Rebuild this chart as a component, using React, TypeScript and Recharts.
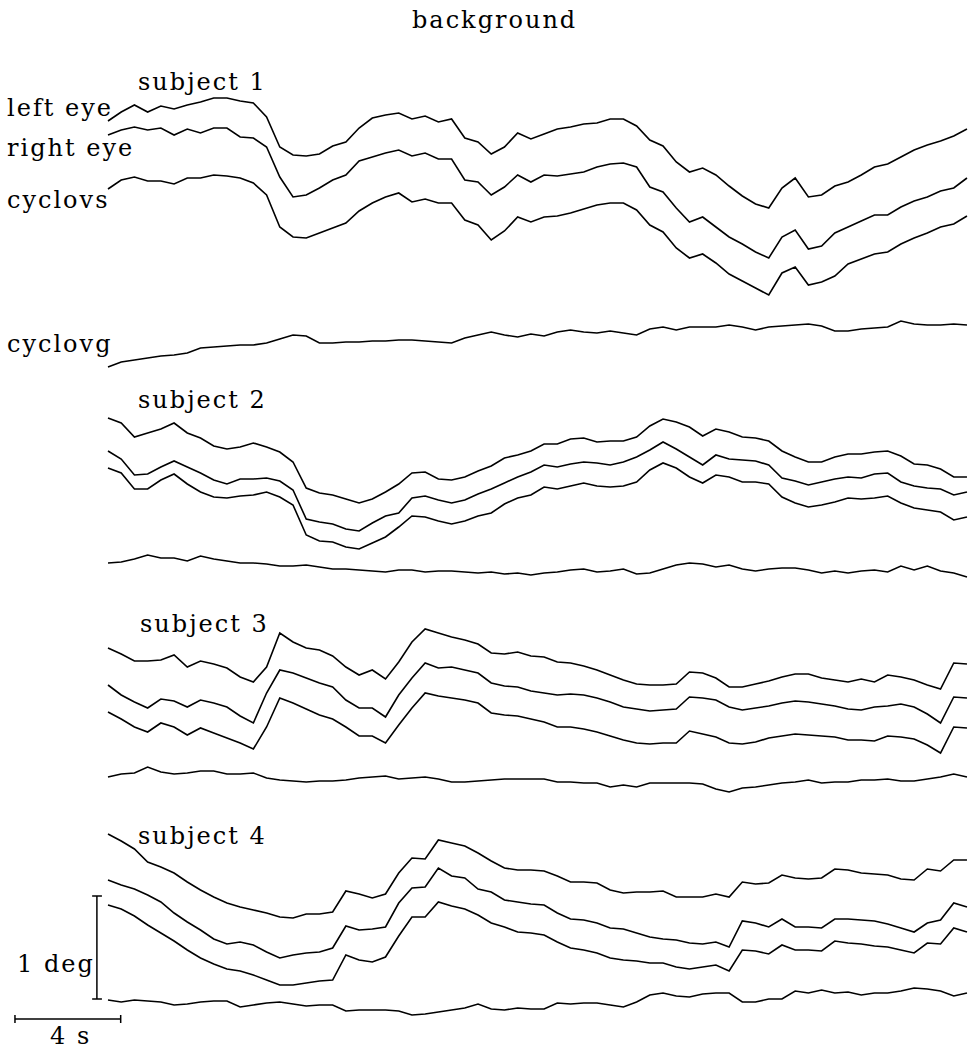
import { LineChart, Line, XAxis, YAxis, ReferenceLine } from "recharts";

// torsion traces, every 0.5 s (values in ~0.01 deg, up = positive)
const S1_LEFT = [
  239, 248, 255, 248, 254, 251, 255, 258, 262, 262, 259, 257, 243, 213, 205, 204, 206, 214, 218, 232, 242, 245,
  247, 241, 244, 238, 241, 222, 218, 206, 213, 227, 221, 226, 231, 233, 236, 237, 241, 241, 234, 220, 214, 198,
  188, 192, 185, 174, 164, 156, 152, 172, 182, 163, 165, 174, 178, 185, 193, 196, 203, 210, 215, 219, 224, 231,
];
const S1_RIGHT = [
  225, 230, 233, 230, 232, 225, 231, 227, 232, 232, 223, 222, 213, 183, 163, 165, 172, 180, 185, 199, 203, 207,
  210, 204, 207, 201, 201, 180, 178, 165, 173, 185, 178, 185, 184, 186, 188, 193, 196, 197, 193, 173, 168, 152,
  138, 143, 133, 123, 116, 108, 102, 123, 130, 111, 114, 127, 133, 139, 145, 145, 153, 159, 163, 169, 172, 182,
];
const S1_CYCLOVS = [
  171, 180, 183, 179, 179, 176, 182, 182, 185, 184, 182, 177, 165, 133, 123, 122, 127, 132, 137, 149, 157, 163,
  167, 158, 161, 157, 157, 140, 135, 120, 129, 143, 138, 143, 144, 147, 151, 155, 157, 157, 150, 135, 128, 112,
  102, 106, 97, 86, 79, 72, 65, 87, 93, 75, 78, 84, 96, 101, 106, 108, 116, 122, 127, 133, 136, 144,
];
const S1_CYCLOVG = [
  -7, -2, 0, 2, 4, 5, 7, 12, 13, 14, 15, 15, 17, 21, 25, 24, 17, 17, 18, 18, 19, 19, 20, 20, 19, 18, 17, 22, 25,
  28, 25, 23, 26, 24, 28, 30, 28, 27, 29, 27, 25, 31, 33, 30, 33, 33, 33, 35, 33, 30, 33, 34, 35, 36, 34, 29, 29,
  31, 32, 33, 39, 36, 35, 35, 36, 35,
];

const S2_LEFT = [
  172, 167, 153, 157, 161, 167, 157, 152, 144, 141, 143, 147, 143, 138, 128, 102, 97, 95, 91, 87, 91, 98, 106,
  117, 118, 111, 110, 113, 119, 124, 132, 135, 139, 146, 146, 151, 152, 148, 149, 149, 153, 164, 171, 168, 163,
  154, 161, 158, 153, 152, 149, 139, 133, 128, 128, 133, 136, 136, 138, 139, 134, 126, 125, 121, 113, 113,
];
const S2_RIGHT = [
  139, 131, 115, 116, 123, 129, 123, 117, 110, 106, 111, 111, 112, 109, 100, 71, 68, 66, 61, 59, 67, 74, 77, 92,
  94, 90, 87, 90, 96, 101, 107, 113, 118, 125, 123, 126, 128, 127, 125, 128, 133, 140, 148, 141, 133, 125, 135,
  131, 130, 129, 125, 112, 109, 105, 108, 111, 113, 112, 116, 117, 108, 104, 102, 101, 95, 98,
];
const S2_CYCLOVS = [
  122, 117, 101, 101, 110, 116, 106, 98, 93, 92, 94, 95, 98, 93, 85, 55, 49, 48, 43, 41, 47, 53, 63, 74, 73, 69,
  66, 69, 74, 77, 86, 92, 95, 103, 101, 104, 107, 104, 103, 104, 108, 120, 127, 122, 113, 107, 115, 113, 108,
  108, 106, 93, 87, 83, 85, 88, 92, 91, 92, 94, 87, 82, 80, 78, 70, 73,
];
const S2_CYCLOVG = [
  27, 28, 31, 35, 32, 32, 29, 34, 31, 29, 27, 27, 26, 24, 24, 25, 23, 21, 21, 20, 19, 18, 20, 20, 18, 19, 19, 18,
  17, 18, 16, 17, 15, 17, 18, 20, 21, 18, 19, 21, 16, 17, 21, 25, 27, 26, 23, 25, 21, 19, 21, 22, 22, 20, 17, 19,
  17, 19, 20, 18, 24, 20, 24, 19, 17, 13,
];

const S3_LEFT = [
  142, 136, 129, 129, 130, 135, 123, 129, 126, 122, 113, 108, 123, 157, 148, 142, 140, 134, 123, 115, 120, 111,
  128, 148, 161, 157, 153, 150, 146, 137, 136, 138, 134, 133, 128, 127, 124, 120, 115, 110, 106, 105, 105, 106,
  118, 117, 112, 103, 103, 106, 109, 113, 116, 116, 112, 110, 108, 111, 108, 115, 113, 110, 105, 101, 127, 126,
];
const S3_RIGHT = [
  105, 95, 88, 82, 91, 89, 83, 90, 87, 83, 74, 67, 97, 120, 117, 112, 107, 103, 90, 82, 82, 73, 95, 112, 127, 122,
  123, 120, 117, 107, 104, 103, 99, 97, 95, 96, 95, 92, 88, 83, 81, 79, 80, 81, 93, 92, 90, 83, 80, 82, 84, 87,
  89, 88, 86, 84, 81, 80, 83, 84, 86, 83, 76, 67, 93, 92,
];
const S3_CYCLOVS = [
  78, 71, 63, 58, 67, 63, 55, 62, 57, 52, 47, 41, 63, 92, 87, 81, 75, 71, 63, 54, 54, 47, 65, 82, 97, 94, 92, 90,
  87, 77, 75, 74, 71, 68, 63, 63, 61, 58, 54, 50, 47, 46, 47, 47, 59, 56, 53, 47, 46, 48, 52, 54, 56, 55, 54, 53,
  50, 50, 49, 54, 53, 51, 45, 37, 63, 62,
];
const S3_CYCLOVG = [
  13, 16, 17, 23, 18, 16, 17, 19, 19, 16, 16, 17, 12, 10, 9, 8, 9, 9, 10, 12, 13, 14, 11, 12, 13, 11, 8, 8, 9, 10,
  11, 11, 11, 11, 8, 8, 7, 7, 3, 5, 3, 7, 7, 7, 7, 6, 1, -2, 2, 3, 5, 7, 8, 10, 7, 8, 8, 10, 10, 11, 9, 9, 11, 13,
  16, 13,
];

const S4_LEFT = [
  196, 189, 181, 168, 163, 157, 148, 140, 133, 127, 123, 120, 117, 113, 112, 116, 116, 118, 139, 136, 132, 136,
  157, 172, 171, 190, 187, 184, 177, 169, 162, 160, 160, 159, 154, 148, 148, 147, 140, 137, 138, 138, 139, 133,
  133, 133, 136, 133, 148, 146, 147, 155, 152, 151, 152, 161, 160, 157, 156, 155, 151, 150, 161, 159, 170, 170,
];
const S4_RIGHT = [
  150, 145, 141, 135, 128, 117, 108, 100, 91, 86, 88, 85, 78, 72, 75, 77, 78, 82, 104, 100, 101, 103, 127, 142,
  143, 162, 154, 152, 141, 138, 130, 128, 126, 125, 117, 111, 110, 107, 102, 101, 97, 93, 91, 90, 87, 86, 88, 83,
  109, 107, 103, 111, 103, 103, 102, 111, 111, 110, 109, 106, 102, 98, 107, 110, 127, 123,
];
const S4_CYCLOVS = [
  125, 121, 114, 105, 97, 89, 80, 72, 66, 61, 59, 55, 50, 45, 45, 47, 49, 50, 75, 70, 68, 73, 94, 113, 113, 128,
  124, 121, 115, 107, 103, 98, 97, 95, 88, 82, 80, 77, 72, 70, 69, 67, 67, 63, 61, 63, 65, 59, 80, 79, 76, 85,
  80, 80, 79, 89, 87, 86, 84, 83, 80, 77, 87, 86, 102, 98,
];
const S4_CYCLOVG = [
  30, 28, 30, 29, 28, 25, 26, 28, 29, 29, 23, 25, 27, 28, 26, 24, 25, 25, 19, 20, 20, 20, 19, 15, 16, 18, 20, 22,
  26, 21, 20, 22, 21, 21, 27, 26, 27, 27, 25, 23, 28, 35, 37, 34, 33, 36, 37, 37, 28, 28, 31, 31, 39, 37, 40, 37,
  38, 35, 37, 37, 39, 42, 41, 39, 34, 37,
];

const SAMPLE_STEP = 0.5; // s
const TRACE_KEYS = ["left", "right", "cyclovs", "cyclovg"];

const W = 975;
const H = 1052;
const PX_PER_S = 26.43;
const X_START = 108;
// vertical placement of each subject's block, in plot units from the bottom
const BLOCK_OFFSETS = [692, 462, 262, 22];

const subjects = [
  [S1_LEFT, S1_RIGHT, S1_CYCLOVS, S1_CYCLOVG],
  [S2_LEFT, S2_RIGHT, S2_CYCLOVS, S2_CYCLOVG],
  [S3_LEFT, S3_RIGHT, S3_CYCLOVS, S3_CYCLOVG],
  [S4_LEFT, S4_RIGHT, S4_CYCLOVS, S4_CYCLOVG],
];

const data = S1_LEFT.map((_, i) => {
  const row: Record<string, number> = { t: i * SAMPLE_STEP };
  subjects.forEach((traces, s) => {
    traces.forEach((arr, j) => {
      row[`s${s}_${TRACE_KEYS[j]}`] = arr[i] + BLOCK_OFFSETS[s];
    });
  });
  return row;
});

const seriesKeys = subjects.flatMap((_, s) => TRACE_KEYS.map((k) => `s${s}_${k}`));

const labels = [
  { text: "background", x: 412, y: 28 },
  { text: "subject 1", x: 138, y: 90 },
  { text: "left eye", x: 7, y: 116 },
  { text: "right eye", x: 7, y: 156 },
  { text: "cyclovs", x: 7, y: 208 },
  { text: "cyclovg", x: 7, y: 352 },
  { text: "subject 2", x: 138, y: 408 },
  { text: "subject 3", x: 140, y: 632 },
  { text: "subject 4", x: 138, y: 844 },
  { text: "1 deg", x: 17, y: 972 },
  { text: "4 s", x: 50, y: 1044 },
];

const ink = "#000";

export default function App() {
  const xMin = -X_START / PX_PER_S;
  const xMax = (W - X_START) / PX_PER_S;
  return (
    <div style={{ position: "absolute", left: 0, top: 0, width: W, height: H, background: "#fff" }}>
      <LineChart width={W} height={H} data={data} margin={{ top: 0, right: 0, bottom: 0, left: 0 }}>
        <XAxis dataKey="t" type="number" domain={[xMin, xMax]} hide height={0} allowDataOverflow />
        <YAxis type="number" domain={[0, H]} hide width={0} allowDataOverflow />
        {seriesKeys.map((key) => (
          <Line
            key={key}
            dataKey={key}
            type="linear"
            stroke={ink}
            strokeWidth={1.6}
            dot={false}
            activeDot={false}
            isAnimationActive={false}
          />
        ))}
        {/* 1 deg scale bar */}
        <ReferenceLine segment={[{ x: -0.42, y: 53 }, { x: -0.42, y: 156 }]} stroke={ink} strokeWidth={1.5} />
        <ReferenceLine segment={[{ x: -0.6, y: 156 }, { x: -0.23, y: 156 }]} stroke={ink} strokeWidth={1.5} />
        <ReferenceLine segment={[{ x: -0.6, y: 53 }, { x: -0.23, y: 53 }]} stroke={ink} strokeWidth={1.5} />
        {/* 4 s scale bar */}
        <ReferenceLine segment={[{ x: -3.52, y: 33 }, { x: 0.48, y: 33 }]} stroke={ink} strokeWidth={1.5} />
        <ReferenceLine segment={[{ x: -3.52, y: 29 }, { x: -3.52, y: 37 }]} stroke={ink} strokeWidth={1.5} />
        <ReferenceLine segment={[{ x: 0.48, y: 29 }, { x: 0.48, y: 37 }]} stroke={ink} strokeWidth={1.5} />
      </LineChart>
      <svg
        width={W}
        height={H}
        style={{ position: "absolute", left: 0, top: 0, pointerEvents: "none" }}
      >
        {labels.map((l) => (
          <text
            key={l.text}
            x={l.x}
            y={l.y}
            fontFamily="'DejaVu Serif', serif"
            fontSize={24}
            letterSpacing={2}
            fill={ink}
          >
            {l.text}
          </text>
        ))}
      </svg>
    </div>
  );
}
